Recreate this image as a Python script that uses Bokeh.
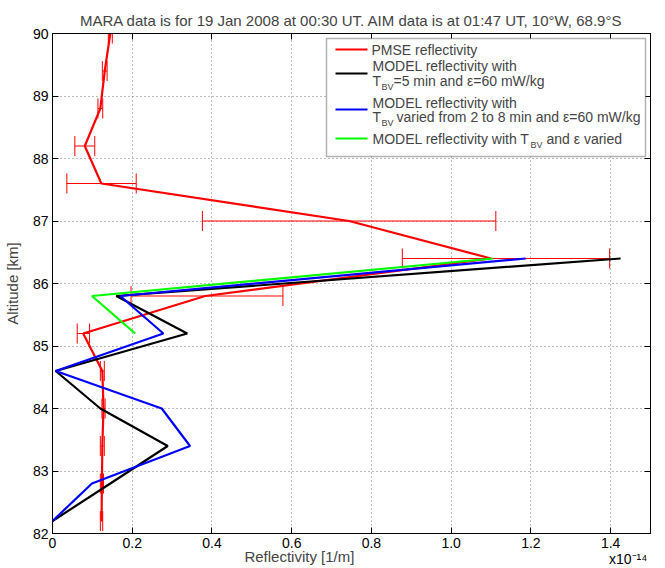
from bokeh.plotting import figure
from bokeh.models import (Whisker, TeeHead, ColumnDataSource, FixedTicker, LinearAxis,
                          Label, BoxAnnotation, Range1d)
from bokeh.embed import file_html
from bokeh.resources import INLINE

FONT = "Liberation Sans"
NB = "\u00a0"

# ---- data (reflectivity in units of 1e-14 1/m) ----
pmse_alt = [90.0, 89.4, 88.8, 88.2, 87.6, 87.0, 86.4, 85.8, 85.2, 84.6, 84.0, 83.4, 82.8, 82.2]
pmse_val = [0.145, 0.131, 0.120, 0.081, 0.1225, 0.744, 1.100, 0.383, 0.077, 0.125, 0.128, 0.125, 0.124, 0.123]
pmse_lo = [0.140, 0.125, 0.114, 0.056, 0.036, 0.376, 0.8775, 0.197, 0.062, 0.120, 0.124, 0.120, 0.120, 0.120]
pmse_hi = [0.150, 0.137, 0.126, 0.106, 0.210, 1.112, 1.3975, 0.578, 0.093, 0.130, 0.132, 0.130, 0.128, 0.126]

model_alt = [86.4, 85.8, 85.2, 84.6, 84.0, 83.4, 82.8, 82.2]
model_black = [1.425, 0.160, 0.338, 0.008, 0.120, 0.289, 0.145, 0.0]
model_blue = [1.187, 0.170, 0.278, 0.008, 0.274, 0.345, 0.099, 0.0]

green_alt = [86.4, 85.8, 85.2]
model_green = [1.105, 0.099, 0.2075]

x_ticks = [0, 0.2, 0.4, 0.6, 0.8, 1.0, 1.2, 1.4]
x_tick_labels = ["0", "0.2", "0.4", "0.6", "0.8", "1.0", "1.2",
                 "1.4\n" + NB * 9 + "x10\u207b\u00b9\u2074"]
y_ticks = [82, 83, 84, 85, 86, 87, 88, 89, 90]

title_text = "MARA data is for 19 Jan 2008 at 00:30 UT. AIM data is at 01:47 UT, 10\u00b0W, 68.9\u00b0S"

p = figure(frame_width=598, frame_height=500,
           x_range=Range1d(0, 1.5), y_range=Range1d(82, 90),
           output_backend="svg", toolbar_location=None,
           min_border_left=52, min_border_right=8, min_border_top=33, min_border_bottom=20)
p.background_fill_color = "white"
p.outline_line_color = "black"
p.outline_line_width = 1

p.title.text = title_text
p.title.text_font = FONT
p.title.text_font_size = "15px"
p.title.text_font_style = "normal"
p.title.align = "center"

# axes
for ax in [p.xaxis[0], p.yaxis[0]]:
    ax.major_tick_in = 6
    ax.major_tick_out = 0
    ax.minor_tick_in = 0
    ax.minor_tick_out = 0
    ax.major_label_text_font = FONT
    ax.major_label_text_font_size = "14px"
    ax.major_label_text_color = "black"
    ax.axis_line_color = "black"
    ax.major_tick_line_color = "black"
    ax.axis_label_text_font = FONT
    ax.axis_label_text_font_size = "15px"
    ax.axis_label_text_font_style = "normal"

p.xaxis[0].ticker = FixedTicker(ticks=x_ticks)
p.xaxis[0].major_label_overrides = {t: l for t, l in zip(x_ticks, x_tick_labels)}
p.xaxis[0].major_label_standoff = 1
p.xaxis[0].major_label_text_line_height = 1.0
p.xaxis[0].axis_label = "Reflectivity [1/m]" + NB * 25
p.xaxis[0].axis_label_standoff = -22

p.yaxis[0].ticker = FixedTicker(ticks=y_ticks)
p.yaxis[0].axis_label = "Altitude [km]"
p.yaxis[0].axis_label_standoff = 9
p.yaxis[0].major_label_standoff = 4

top = LinearAxis(ticker=FixedTicker(ticks=x_ticks), major_tick_in=6, major_tick_out=0,
                 minor_tick_in=0, minor_tick_out=0, major_label_text_font_size="0px",
                 major_label_standoff=0)
right = LinearAxis(ticker=FixedTicker(ticks=y_ticks), major_tick_in=6, major_tick_out=0,
                   minor_tick_in=0, minor_tick_out=0, major_label_text_font_size="0px",
                   major_label_standoff=0)
p.add_layout(top, "above")
p.add_layout(right, "right")

p.xgrid.ticker = FixedTicker(ticks=x_ticks)
p.ygrid.ticker = FixedTicker(ticks=y_ticks)
for g in [p.xgrid[0], p.ygrid[0]]:
    g.grid_line_color = "#777777"
    g.grid_line_dash = "1 3"
    g.grid_line_width = 1

# lines
p.line(pmse_val, pmse_alt, line_color="#ff0000", line_width=2.2)
p.line(model_black, model_alt, line_color="black", line_width=2.2)
p.line(model_blue, model_alt, line_color="#0000ff", line_width=2.2)
p.line(model_green, green_alt, line_color="#00ff00", line_width=2.2)

src = ColumnDataSource(dict(alt=pmse_alt, lo=pmse_lo, hi=pmse_hi))
wh = Whisker(base="alt", lower="lo", upper="hi", source=src, dimension="width",
             line_color="#ff0000", line_width=1,
             upper_head=TeeHead(size=20, line_color="#ff0000", line_width=1),
             lower_head=TeeHead(size=20, line_color="#ff0000", line_width=1))
p.add_layout(wh)

# legend (custom, frame-relative screen units, y upward from frame bottom)
p.add_layout(BoxAnnotation(left=274, right=593, bottom=377, top=495,
                           left_units="screen", right_units="screen",
                           bottom_units="screen", top_units="screen",
                           fill_color="white", fill_alpha=1.0,
                           line_color="black", line_width=1.5))

def handle(y, color):
    p.add_layout(BoxAnnotation(left=283, right=315, bottom=y - 1, top=y + 1,
                               left_units="screen", right_units="screen",
                               bottom_units="screen", top_units="screen",
                               fill_color=color, fill_alpha=1.0, line_alpha=0))

def txt(x, y, s, size="14px"):
    p.add_layout(Label(x=x, y=y, x_units="screen", y_units="screen", text=s,
                       text_font=FONT, text_font_size=size, text_align="left",
                       text_baseline="middle"))

handle(484, "#ff0000")
txt(319, 484, "PMSE reflectivity")

handle(460, "black")
txt(320, 468, "MODEL reflectivity with")
txt(320, 453, "T")
txt(329, 447, "BV", "9px")
txt(341, 453, "=5 min and \u03b5=60 mW/kg")

handle(424, "#0000ff")
txt(320, 431, "MODEL reflectivity with")
txt(320, 417, "T")
txt(329, 411, "BV", "9px")
txt(344, 417, "varied from 2 to 8 min and \u03b5=60 mW/kg")

handle(395, "#00ff00")
txt(320, 395, "MODEL reflectivity with T")
txt(478, 389, "BV", "9px")
txt(494, 395, "and \u03b5 varied")

open("out.html", "w").write(file_html(p, INLINE))
